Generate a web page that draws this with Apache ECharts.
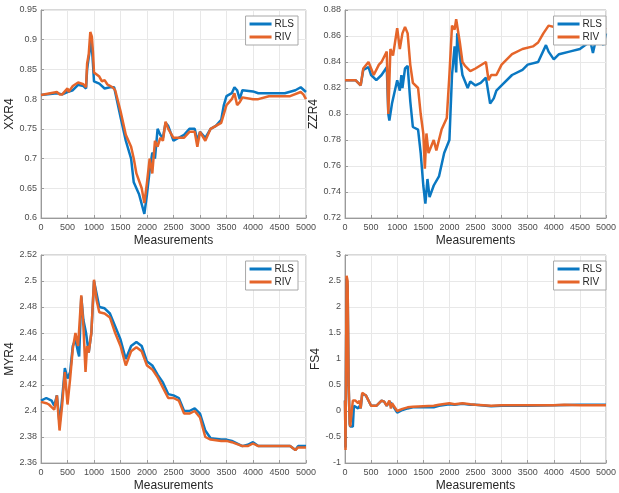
<!DOCTYPE html>
<html>
<head>
<meta charset="utf-8">
<script src="https://cdn.jsdelivr.net/npm/echarts@6/dist/echarts.min.js"></script>
<style>
  html, body { margin: 0; padding: 0; background: #fff; }
  #main { width: 619px; height: 493px; }
</style>
</head>
<body>
<div id="main"></div>
<script>
// XXR4
const xxrRlsX = [0, 300, 400, 500, 600, 700, 800, 850, 870, 900, 950, 980, 1000, 1100, 1200, 1300, 1380, 1500, 1600, 1700, 1750, 1850, 1950, 1980, 2000, 2050, 2100, 2150, 2200, 2250, 2300, 2350, 2400, 2500, 2600, 2700, 2800, 2900, 2950, 3000, 3100, 3200, 3300, 3400, 3450, 3500, 3600, 3650, 3700, 3750, 3800, 4000, 4100, 4400, 4500, 4600, 4800, 4900, 5000];
const xxrRlsY = [0.807, 0.810, 0.808, 0.812, 0.815, 0.824, 0.822, 0.818, 0.85, 0.87, 0.90, 0.86, 0.83, 0.826, 0.818, 0.82, 0.82, 0.77, 0.73, 0.70, 0.66, 0.64, 0.607, 0.61, 0.64, 0.68, 0.71, 0.70, 0.75, 0.74, 0.735, 0.76, 0.755, 0.73, 0.735, 0.74, 0.75, 0.75, 0.73, 0.745, 0.735, 0.75, 0.755, 0.765, 0.79, 0.805, 0.81, 0.82, 0.815, 0.80, 0.815, 0.813, 0.81, 0.81, 0.81, 0.81, 0.815, 0.82, 0.812];
const xxrRivX = [0, 300, 350, 400, 500, 520, 600, 700, 800, 850, 870, 900, 930, 960, 980, 1000, 1100, 1150, 1200, 1250, 1350, 1400, 1500, 1600, 1700, 1750, 1800, 1900, 1950, 2000, 2050, 2100, 2150, 2200, 2250, 2300, 2350, 2400, 2500, 2600, 2700, 2800, 2900, 2950, 3000, 3100, 3200, 3300, 3400, 3500, 3600, 3650, 3700, 3750, 3800, 4000, 4100, 4300, 4500, 4700, 4900, 4950, 5000];
const xxrRivY = [0.807, 0.812, 0.808, 0.808, 0.818, 0.812, 0.822, 0.828, 0.825, 0.82, 0.86, 0.875, 0.913, 0.905, 0.88, 0.845, 0.838, 0.83, 0.832, 0.825, 0.82, 0.815, 0.78, 0.74, 0.72, 0.70, 0.675, 0.65, 0.625, 0.66, 0.70, 0.675, 0.73, 0.72, 0.735, 0.73, 0.762, 0.75, 0.735, 0.735, 0.735, 0.745, 0.745, 0.72, 0.745, 0.73, 0.75, 0.755, 0.76, 0.79, 0.80, 0.81, 0.79, 0.795, 0.803, 0.80, 0.80, 0.805, 0.805, 0.805, 0.812, 0.808, 0.80];

// ZZR4
const zzrRlsX = [0, 200, 300, 350, 450, 500, 600, 700, 800, 830, 850, 900, 1000, 1050, 1080, 1100, 1150, 1200, 1250, 1300, 1400, 1450, 1500, 1540, 1580, 1620, 1700, 1800, 1900, 2000, 2050, 2100, 2130, 2150, 2200, 2250, 2300, 2350, 2400, 2500, 2600, 2700, 2780, 2850, 2900, 3000, 3200, 3400, 3500, 3700, 3850, 3900, 4000, 4100, 4300, 4500, 4700, 4750, 4800, 4900, 4950, 5000];
const zzrRlsY = [0.826, 0.826, 0.822, 0.834, 0.836, 0.83, 0.826, 0.83, 0.836, 0.80, 0.795, 0.808, 0.826, 0.818, 0.83, 0.82, 0.835, 0.837, 0.81, 0.79, 0.788, 0.77, 0.745, 0.731, 0.75, 0.736, 0.745, 0.752, 0.77, 0.78, 0.83, 0.852, 0.832, 0.862, 0.845, 0.83, 0.825, 0.82, 0.825, 0.822, 0.824, 0.828, 0.808, 0.812, 0.818, 0.822, 0.83, 0.834, 0.838, 0.84, 0.853, 0.848, 0.842, 0.846, 0.848, 0.85, 0.856, 0.847, 0.856, 0.856, 0.853, 0.862];
const zzrRivX = [0, 200, 300, 350, 450, 500, 550, 650, 700, 800, 830, 870, 920, 1000, 1050, 1100, 1150, 1200, 1250, 1300, 1400, 1450, 1500, 1530, 1560, 1600, 1700, 1750, 1850, 1950, 2000, 2050, 2100, 2130, 2200, 2250, 2300, 2400, 2500, 2700, 2750, 2800, 2900, 3000, 3200, 3400, 3600, 3700, 3800, 3900, 4100, 4300, 4500, 4700, 4800, 4900, 5000];
const zzrRivY = [0.826, 0.826, 0.822, 0.835, 0.84, 0.835, 0.83, 0.838, 0.84, 0.848, 0.80, 0.85, 0.845, 0.866, 0.85, 0.862, 0.867, 0.862, 0.838, 0.824, 0.82, 0.80, 0.785, 0.758, 0.785, 0.77, 0.78, 0.772, 0.788, 0.797, 0.83, 0.868, 0.865, 0.873, 0.855, 0.84, 0.837, 0.833, 0.835, 0.84, 0.826, 0.83, 0.83, 0.838, 0.846, 0.85, 0.852, 0.855, 0.862, 0.868, 0.866, 0.866, 0.866, 0.868, 0.862, 0.867, 0.865];

// MYR4
const myrRlsX = [0, 100, 200, 250, 300, 350, 400, 450, 500, 550, 600, 650, 700, 720, 760, 800, 850, 900, 950, 1000, 1050, 1100, 1200, 1300, 1400, 1500, 1600, 1700, 1800, 1900, 2000, 2100, 2200, 2300, 2400, 2500, 2600, 2700, 2800, 2900, 3000, 3100, 3200, 3400, 3500, 3600, 3800, 3900, 4000, 4100, 4500, 4700, 4800, 4850, 5000];
const myrRlsY = [2.408, 2.41, 2.408, 2.404, 2.412, 2.39, 2.41, 2.433, 2.425, 2.43, 2.45, 2.455, 2.445, 2.442, 2.488, 2.47, 2.46, 2.445, 2.46, 2.50, 2.49, 2.48, 2.479, 2.475, 2.465, 2.455, 2.44, 2.45, 2.453, 2.45, 2.438, 2.435, 2.428, 2.422, 2.413, 2.412, 2.41, 2.40, 2.40, 2.402, 2.398, 2.385, 2.379, 2.378, 2.378, 2.377, 2.373, 2.374, 2.376, 2.373, 2.373, 2.373, 2.37, 2.373, 2.373];
const myrRivX = [0, 100, 150, 200, 250, 300, 350, 400, 450, 480, 500, 550, 600, 650, 700, 760, 800, 840, 870, 900, 950, 1000, 1050, 1100, 1200, 1300, 1400, 1500, 1600, 1700, 1800, 1900, 2000, 2100, 2200, 2300, 2400, 2500, 2600, 2700, 2800, 2900, 3000, 3100, 3200, 3400, 3500, 3600, 3800, 3900, 4000, 4100, 4500, 4700, 4800, 4850, 5000];
const myrRivY = [2.407, 2.406, 2.405, 2.403, 2.401, 2.412, 2.385, 2.405, 2.43, 2.415, 2.405, 2.425, 2.448, 2.46, 2.45, 2.489, 2.465, 2.43, 2.45, 2.445, 2.46, 2.501, 2.485, 2.476, 2.475, 2.472, 2.46, 2.45, 2.435, 2.446, 2.449, 2.446, 2.435, 2.432, 2.426, 2.418, 2.41, 2.41, 2.408, 2.398, 2.398, 2.4, 2.395, 2.38, 2.378, 2.377, 2.377, 2.376, 2.373, 2.373, 2.375, 2.373, 2.373, 2.373, 2.37, 2.372, 2.372];

// FS4
const fsRlsX = [0, 10, 30, 50, 70, 90, 100, 150, 170, 200, 250, 280, 300, 330, 400, 500, 600, 700, 750, 800, 850, 900, 1000, 1100, 1200, 1300, 1500, 1700, 1800, 2000, 2100, 2250, 2400, 2500, 2800, 3000, 3500, 4000, 4500, 5000];
const fsRlsY = [0.2, -0.7, 2.55, 2.4, 0.5, -0.25, -0.3, -0.3, 0.1, 0.08, 0.05, 0.1, 0.05, 0.33, 0.3, 0.1, 0.1, 0.2, 0.18, 0.1, 0.18, 0.13, -0.03, 0.02, 0.05, 0.07, 0.07, 0.07, 0.1, 0.13, 0.12, 0.14, 0.12, 0.12, 0.09, 0.1, 0.1, 0.11, 0.12, 0.12];
const fsRivX = [0, 10, 30, 50, 70, 90, 100, 130, 150, 200, 250, 280, 300, 330, 400, 500, 600, 700, 750, 800, 850, 880, 900, 1000, 1100, 1200, 1300, 1500, 1700, 1800, 2000, 2100, 2250, 2400, 2500, 2800, 3000, 3500, 4000, 4200, 4500, 5000];
const fsRivY = [0.2, -0.75, 2.6, 2.5, 0.5, -0.25, -0.3, -0.3, 0.2, 0.2, 0.15, 0.2, 0.05, 0.35, 0.3, 0.1, 0.1, 0.2, 0.18, 0.1, 0.2, 0.05, 0.15, 0.0, 0.04, 0.07, 0.08, 0.09, 0.1, 0.12, 0.15, 0.13, 0.15, 0.13, 0.12, 0.1, 0.11, 0.11, 0.11, 0.12, 0.11, 0.11];

const seriesNames = ['RLS', 'RIV'];
const colors = ['#0a78c2', '#e5652a'];

const panels = [
  { name: 'XXR4', min: 0.6, max: 0.95, step: 0.05, rls: [xxrRlsX, xxrRlsY], riv: [xxrRivX, xxrRivY] },
  { name: 'ZZR4', min: 0.72, max: 0.88, step: 0.02, rls: [zzrRlsX, zzrRlsY], riv: [zzrRivX, zzrRivY] },
  { name: 'MYR4', min: 2.36, max: 2.52, step: 0.02, rls: [myrRlsX, myrRlsY], riv: [myrRivX, myrRivY] },
  { name: 'FS4', min: -1, max: 3, step: 0.5, rls: [fsRlsX, fsRlsY], riv: [fsRivX, fsRivY] }
];

const boxes = [
  { left: 41, top: 10, width: 265, height: 208 },
  { left: 345, top: 10, width: 267, height: 208 },
  { left: 41, top: 255, width: 265, height: 208 },
  { left: 345, top: 255, width: 267, height: 208 }
];

const font = 'Liberation Sans, Arial, sans-serif';
const zip = (xs, ys) => xs.map((x, i) => [x, ys[i]]);

const chart = echarts.init(document.getElementById('main'));

let option = {
  animation: false,
  backgroundColor: '#fff',
  textStyle: { fontFamily: font },
  grid: [], xAxis: [], yAxis: [], series: [], legend: []
};

panels.forEach((p, i) => {
  const b = boxes[i];
  option.grid.push(Object.assign({ show: true, borderColor: '#b0b0b0', borderWidth: 1 }, b));
  option.xAxis.push({
    type: 'value', gridIndex: i, min: 0, max: 5000, interval: 500,
    name: 'Measurements', nameLocation: 'middle', nameGap: 17,
    nameTextStyle: { fontSize: 12, color: '#262626', fontFamily: font },
    axisLine: { show: true, onZero: false, lineStyle: { color: '#9a9a9a' } },
    axisTick: { show: true, inside: true, length: 3, lineStyle: { color: '#9a9a9a' } },
    axisLabel: { fontSize: 9, color: '#4d4d4d', margin: 5, hideOverlap: false,
      formatter: (v) => String(v) },
    splitLine: { show: true, lineStyle: { color: '#e8e8e8' } }
  });
  option.yAxis.push({
    type: 'value', gridIndex: i, min: p.min, max: p.max, interval: p.step,
    name: p.name, nameLocation: 'middle', nameGap: 21,
    nameTextStyle: { fontSize: 12, color: '#262626', fontFamily: font },
    axisLine: { show: true, onZero: false, lineStyle: { color: '#9a9a9a' } },
    axisTick: { show: true, inside: true, length: 3, lineStyle: { color: '#9a9a9a' } },
    axisLabel: { fontSize: 9, color: '#4d4d4d', margin: 4, hideOverlap: false,
      formatter: (v) => String(parseFloat(v.toFixed(2))) },
    splitLine: { show: true, lineStyle: { color: '#e8e8e8' } }
  });
  [p.rls, p.riv].forEach((d, k) => {
    option.series.push({
      name: seriesNames[k], type: 'line', xAxisIndex: i, yAxisIndex: i,
      data: zip(d[0], d[1]), symbol: 'none', clip: true,
      lineStyle: { width: 2.5, color: colors[k] }, itemStyle: { color: colors[k] }
    });
  });
  option.legend.push({
    data: seriesNames, orient: 'vertical',
    right: 619 - (b.left + b.width) + (i % 2 === 0 ? 8 : 6), top: b.top + 6,
    backgroundColor: '#fff', borderColor: '#a8a8a8', borderWidth: 1,
    padding: [3, 4, 3, 4], itemGap: 3, itemWidth: 22, itemHeight: 3, icon: 'rect',
    textStyle: { fontSize: 10, color: '#262626', padding: [0, 0, 0, -2] },
    selectedMode: false
  });
});

chart.setOption(option);
</script>
</body>
</html>
